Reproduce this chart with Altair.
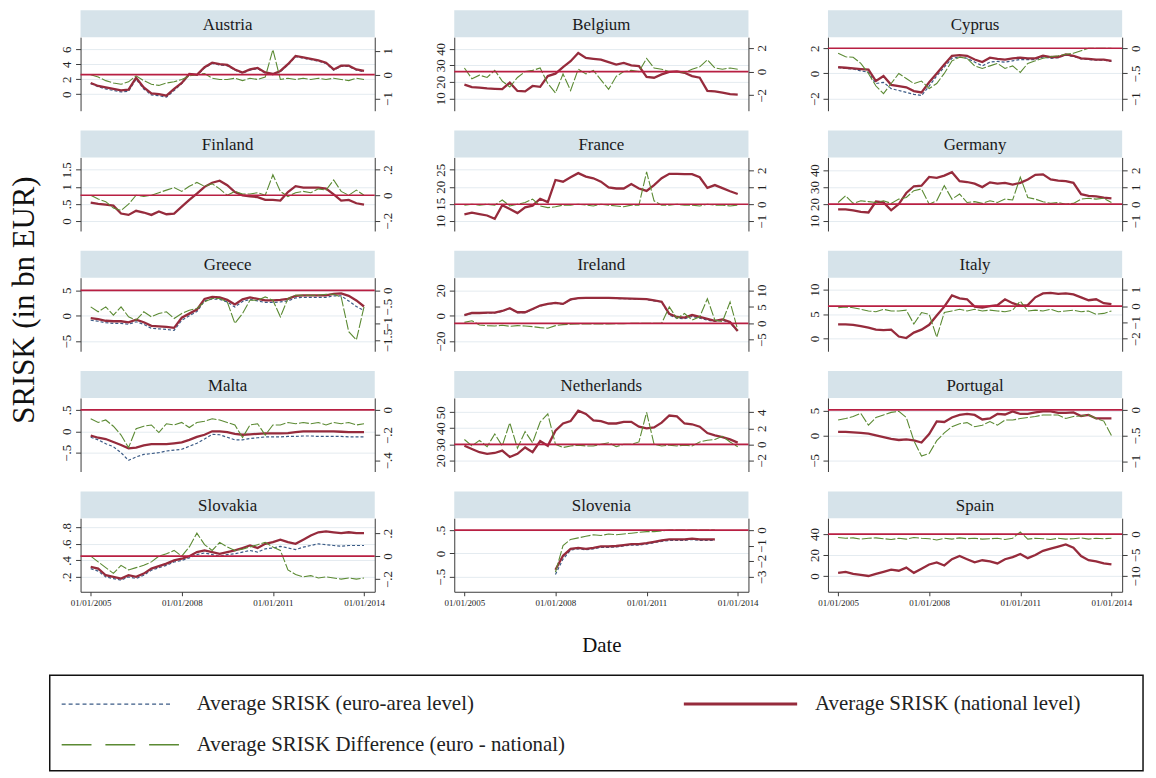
import altair as alt

# ---------------- data (quarterly observations) ----------------
DATES = ["2005-01-01", "2005-04-01", "2005-07-01", "2005-10-01", "2006-01-01", "2006-04-01",
         "2006-07-01", "2006-10-01", "2007-01-01", "2007-04-01", "2007-07-01", "2007-10-01",
         "2008-01-01", "2008-04-01", "2008-07-01", "2008-10-01", "2009-01-01", "2009-04-01",
         "2009-07-01", "2009-10-01", "2010-01-01", "2010-04-01", "2010-07-01", "2010-10-01",
         "2011-01-01", "2011-04-01", "2011-07-01", "2011-10-01", "2012-01-01", "2012-04-01",
         "2012-07-01", "2012-10-01", "2013-01-01", "2013-04-01", "2013-07-01", "2013-10-01",
         "2014-01-01"]

COUNTRIES = ["Austria", "Belgium", "Cyprus", "Finland", "France", "Germany", "Greece", "Ireland",
             "Italy", "Malta", "Netherlands", "Portugal", "Slovakia", "Slovenia", "Spain"]

AUT_NAT = [1.5, 1.1, 0.9, 0.7, 0.5, 0.6, 2.2, 0.9, 0.1, 0.0, -0.2, 0.7, 1.5, 2.7, 2.6, 3.6, 4.2, 4.0, 3.9, 3.3, 2.9, 3.3, 3.5, 2.9, 2.7, 3.1, 4.0, 5.1, 4.9, 4.7, 4.5, 4.2, 3.3, 3.8, 3.8, 3.3, 3.1]
AUT_EURO = [1.4, 1.0, 0.7, 0.5, 0.3, 0.4, 2.0, 0.7, -0.1, -0.2, -0.4, 0.5, 1.4, 2.6, 2.5, 3.5, 4.1, 3.9, 3.8, 3.2, 2.8, 3.2, 3.4, 2.8, 2.6, 3.0, 3.9, 5.0, 4.8, 4.6, 4.4, 4.1, 3.2, 3.7, 3.7, 3.2, 3.0]
AUT_DIFF = [0.0, -0.1, -0.25, -0.35, -0.4, -0.3, -0.05, -0.25, -0.4, -0.45, -0.35, -0.3, -0.2, -0.05, 0.0, 0.05, -0.15, -0.2, -0.2, -0.15, -0.25, -0.15, -0.2, -0.1, 1.05, -0.2, -0.15, -0.2, -0.15, -0.2, -0.15, -0.2, -0.15, -0.2, -0.25, -0.15, -0.2]

BEL_NAT = [18.3, 16.8, 16.5, 16.0, 15.8, 15.6, 19.5, 14.5, 14.2, 17.5, 17.0, 23.5, 25.0, 29.0, 32.5, 37.5, 34.5, 34.0, 33.5, 32.0, 30.5, 31.5, 30.0, 29.5, 23.0, 22.5, 24.5, 26.0, 26.3, 25.5, 23.5, 22.5, 14.5, 14.2, 13.5, 12.5, 12.2]
BEL_DIFF = [0.3, -0.6, -0.3, -0.5, 0.1, -0.8, -1.3, -0.5, 0.0, 0.1, 0.3, -1.0, -1.8, -0.2, -1.6, 0.2, -0.2, 0.1, -0.7, -1.5, -0.4, 0.0, 0.1, 0.0, 1.1, 0.3, 0.2, 0.0, 0.0, -0.1, 0.2, 0.4, 1.0, 0.3, 0.2, 0.3, 0.2]

CYP_NAT = [0.5, 0.45, 0.4, 0.35, 0.3, -0.6, -0.2, -0.9, -1.0, -1.1, -1.4, -1.5, -0.7, 0.0, 0.7, 1.4, 1.45, 1.4, 1.1, 0.9, 1.25, 1.15, 1.1, 1.2, 1.25, 1.2, 1.2, 1.4, 1.3, 1.3, 1.5, 1.4, 1.2, 1.15, 1.1, 1.1, 1.0]
CYP_EURO = [0.45, 0.4, 0.35, 0.2, 0.1, -0.8, -0.7, -1.2, -1.35, -1.5, -1.65, -1.75, -1.0, -0.2, 0.5, 1.2, 1.3, 1.2, 0.9, 0.6, 0.9, 0.95, 0.9, 1.0, 1.1, 1.1, 1.1, 1.3, 1.2, 1.25, 1.45, 1.35, 1.15, 1.1, 1.05, 1.05, 0.95]
CYP_DIFF = [-0.1, -0.17, -0.18, -0.3, -0.5, -0.75, -0.9, -0.7, -0.5, -0.6, -0.7, -0.65, -0.8, -0.7, -0.5, -0.25, -0.18, -0.2, -0.35, -0.4, -0.35, -0.3, -0.4, -0.35, -0.48, -0.3, -0.25, -0.2, -0.17, -0.15, -0.12, -0.1, -0.05, 0.0, 0.0, 0.0, 0.0]

FIN_NAT = [0.54, 0.5, 0.48, 0.45, 0.22, 0.18, 0.3, 0.25, 0.18, 0.28, 0.2, 0.22, 0.42, 0.62, 0.8, 1.0, 1.12, 1.18, 1.05, 0.85, 0.75, 0.72, 0.7, 0.62, 0.62, 0.6, 0.85, 1.02, 0.98, 0.98, 0.98, 0.95, 0.78, 0.6, 0.62, 0.52, 0.48]
FIN_DIFF = [0.0, -0.03, -0.05, -0.1, -0.12, -0.07, 0.0, -0.01, 0.0, 0.02, 0.04, 0.06, 0.03, 0.07, 0.1, 0.07, 0.09, 0.05, 0.0, 0.03, 0.01, 0.01, 0.02, 0.0, 0.16, 0.03, -0.01, 0.02, 0.03, 0.02, 0.05, 0.04, 0.12, 0.03, 0.0, 0.04, 0.0]

FRA_NAT = [11.9, 12.4, 12.0, 11.6, 10.6, 14.6, 13.5, 12.3, 14.0, 14.5, 16.5, 15.5, 22.0, 21.5, 22.8, 24.0, 23.0, 22.5, 21.5, 19.8, 19.5, 19.5, 20.8, 19.5, 18.8, 20.5, 22.5, 23.8, 23.8, 23.7, 23.7, 22.8, 19.7, 20.5, 19.6, 18.7, 17.9]
FRA_DIFF = [-0.05, 0.0, -0.05, 0.0, -0.05, 0.25, -0.1, 0.0, 0.1, 0.3, -0.1, -0.2, -0.15, -0.05, -0.05, 0.0, -0.05, -0.1, 0.0, -0.05, -0.1, -0.15, -0.05, -0.05, 1.9, 0.2, -0.05, -0.05, 0.0, -0.05, -0.05, -0.1, 0.0, -0.05, -0.05, -0.1, -0.05]

DEU_NAT = [16.8, 16.9, 16.2, 15.4, 15.0, 21.5, 21.0, 16.3, 20.0, 26.5, 30.5, 30.8, 36.0, 35.5, 36.8, 38.8, 33.5, 33.0, 32.0, 30.0, 32.8, 32.0, 32.5, 31.5, 32.5, 34.5, 37.2, 37.5, 34.5, 33.8, 33.5, 32.5, 25.8, 24.8, 24.5, 23.8, 23.3]
DEU_DIFF = [0.1, 0.5, 0.05, 0.2, 0.15, 0.1, 0.2, 0.05, 0.3, 0.4, 0.8, 0.9, 0.0, 0.2, 1.1, 0.3, 0.6, 0.1, 0.15, 0.05, 0.2, 0.1, 0.3, 0.25, 1.6, 0.4, 0.3, 0.15, 0.05, 0.1, 0.0, 0.05, 0.3, 0.35, 0.3, 0.35, 0.1]

GRC_NAT = [-0.5, -0.7, -1.0, -1.1, -1.1, -1.3, -0.8, -1.3, -2.0, -2.1, -2.2, -2.4, -0.4, 0.4, 1.2, 3.3, 3.7, 3.6, 3.1, 2.2, 3.2, 3.6, 3.3, 3.0, 3.0, 3.1, 3.3, 3.9, 4.0, 4.0, 4.0, 4.0, 4.3, 4.4, 3.9, 3.0, 1.8]
GRC_EURO = [-0.9, -1.1, -1.4, -1.5, -1.5, -1.7, -1.2, -1.7, -2.5, -2.6, -2.7, -2.9, -0.9, 0.0, 0.8, 2.9, 3.3, 3.2, 2.7, 1.7, 2.8, 3.2, 2.9, 2.6, 2.6, 2.7, 2.9, 3.5, 3.6, 3.6, 3.6, 3.6, 3.9, 3.9, 2.9, 1.8, 1.0]
GRC_DIFF = [-0.5, -0.65, -0.5, -0.75, -0.5, -0.8, -0.9, -0.65, -0.8, -0.7, -0.65, -0.85, -0.7, -0.6, -0.55, -0.35, -0.25, -0.25, -0.35, -1.0, -0.7, -0.3, -0.3, -0.2, -0.3, -0.8, -0.25, -0.15, -0.15, -0.15, -0.15, -0.12, -0.12, -0.2, -1.25, -1.5, -0.5]

IRL_NAT = [0.5, 2.1, 2.1, 2.4, 2.4, 3.7, 5.9, 2.7, 2.7, 5.3, 8.0, 9.3, 10.1, 9.3, 12.8, 13.9, 14.0, 14.0, 14.0, 14.0, 13.8, 13.7, 13.5, 13.3, 13.0, 12.0, 11.0, 1.5, -1.0, -1.5, 0.5, -1.0, -2.5, -4.0, -3.0, -5.0, -12.0]
IRL_EURO = [0.3, 1.8, 1.8, 2.1, 2.1, 3.4, 5.6, 2.4, 2.4, 5.0, 7.7, 9.0, 9.8, 9.0, 12.5, 13.6, 13.7, 13.7, 13.7, 13.7, 13.5, 13.4, 13.2, 13.0, 12.7, 11.7, 10.7, 0.5, -2.0, -2.5, -0.5, -2.0, -3.5, -4.5, -3.5, -5.5, -12.5]
IRL_DIFF = [0.3, 0.8, -0.5, -0.7, -0.8, -0.6, -0.9, -0.7, -0.8, -1.0, -1.3, -1.5, -0.7, -0.4, -0.3, -0.2, -0.2, -0.2, -0.2, -0.2, -0.1, -0.1, 0.0, 0.0, 0.0, 0.0, 0.0, 5.0, 1.5, 3.0, 1.0, 2.0, 7.5, 1.0, 0.5, 6.5, -2.0]

ITA_NAT = [2.9, 2.9, 2.8, 2.5, 2.2, 1.8, 1.7, 1.8, 0.4, 0.1, 1.2, 1.8, 2.8, 4.7, 6.5, 8.8, 8.2, 8.0, 6.5, 6.3, 6.6, 6.8, 8.0, 7.2, 6.7, 6.8, 8.4, 9.2, 9.3, 9.1, 9.2, 9.0, 8.4, 7.8, 8.0, 7.2, 7.0]
ITA_DIFF = [-0.1, -0.05, -0.1, -0.2, -0.3, -0.35, -0.2, -0.3, -0.3, -0.25, -1.1, -0.4, -0.5, -1.9, -0.4, -0.3, -0.2, -0.3, -0.2, -0.3, -0.25, -0.3, -0.35, -0.25, 0.3, -0.3, -0.25, -0.3, -0.2, -0.35, -0.3, -0.25, -0.35, -0.3, -0.5, -0.45, -0.3]

MLT_NAT = [-0.1, -0.15, -0.18, -0.25, -0.32, -0.4, -0.38, -0.33, -0.3, -0.3, -0.3, -0.28, -0.26, -0.2, -0.13, -0.08, 0.0, 0.0, -0.02, -0.06, -0.08, -0.07, -0.06, -0.05, -0.05, -0.05, -0.04, -0.02, 0.0, 0.0, 0.0, 0.0, 0.0, -0.01, -0.02, -0.02, -0.02]
MLT_EURO = [-0.14, -0.2, -0.29, -0.36, -0.5, -0.68, -0.6, -0.54, -0.52, -0.5, -0.46, -0.44, -0.42, -0.35, -0.28, -0.18, -0.07, -0.08, -0.14, -0.2, -0.2, -0.17, -0.15, -0.13, -0.13, -0.13, -0.12, -0.12, -0.11, -0.11, -0.12, -0.12, -0.12, -0.12, -0.13, -0.13, -0.13]
MLT_DIFF = [-0.07, -0.1, -0.08, -0.13, -0.2, -0.3, -0.15, -0.13, -0.12, -0.18, -0.11, -0.12, -0.1, -0.14, -0.1, -0.09, -0.07, -0.08, -0.1, -0.12, -0.22, -0.12, -0.11, -0.2, -0.12, -0.12, -0.1, -0.11, -0.1, -0.11, -0.1, -0.12, -0.1, -0.11, -0.1, -0.12, -0.11]

NLD_NAT = [29, 27, 25, 24, 24.5, 26, 22, 24, 28, 25, 32, 29, 38.5, 43, 44.5, 51, 49, 45, 44.5, 43, 43, 44, 44, 41, 40, 40.5, 43.5, 48, 47.5, 43, 42.5, 41, 37, 35.5, 34.5, 33, 31]
NLD_DIFF = [0.6, -0.2, 0.5, -0.3, 1.3, -0.2, 2.7, -0.5, 1.6, 0.2, 2.8, 3.8, 0.0, -0.4, -0.2, -0.1, -0.2, -0.2, 0.0, 0.2, -0.3, 0.0, 0.0, 0.3, 4.0, 0.0, -0.2, -0.1, -0.2, -0.1, -0.2, 0.3, 0.5, 0.6, 1.0, 0.3, -0.3]

PRT_NAT = [0.7, 0.7, 0.6, 0.5, 0.35, 0.0, -0.35, -0.7, -0.9, -0.8, -1.0, -1.4, 0.3, 2.8, 2.7, 3.6, 4.1, 4.3, 4.1, 3.2, 3.4, 4.3, 4.2, 4.8, 4.3, 4.3, 4.6, 4.8, 4.8, 4.5, 4.5, 4.6, 3.9, 4.1, 3.4, 3.4, 3.4]
PRT_DIFF = [-0.2, -0.17, -0.13, -0.07, -0.3, -0.15, -0.1, -0.05, -0.03, -0.15, -0.6, -0.9, -0.85, -0.6, -0.45, -0.33, -0.27, -0.25, -0.33, -0.3, -0.23, -0.3, -0.2, -0.2, -0.17, -0.15, -0.13, -0.1, -0.1, -0.1, -0.17, -0.13, -0.12, -0.1, -0.17, -0.22, -0.5]

SVK_NAT = [0.32, 0.3, 0.22, 0.2, 0.18, 0.22, 0.2, 0.24, 0.3, 0.33, 0.36, 0.4, 0.42, 0.45, 0.5, 0.52, 0.5, 0.48, 0.5, 0.52, 0.55, 0.58, 0.55, 0.6, 0.62, 0.65, 0.62, 0.6, 0.65, 0.7, 0.74, 0.75, 0.74, 0.73, 0.74, 0.73, 0.73]
SVK_EURO = [0.3, 0.27, 0.2, 0.18, 0.16, 0.2, 0.18, 0.22, 0.28, 0.31, 0.34, 0.38, 0.4, 0.43, 0.47, 0.49, 0.47, 0.45, 0.47, 0.48, 0.5, 0.52, 0.5, 0.54, 0.55, 0.57, 0.55, 0.53, 0.56, 0.58, 0.6, 0.59, 0.58, 0.57, 0.58, 0.58, 0.58]
SVK_DIFF = [0.0, -0.05, -0.1, -0.15, -0.08, -0.12, -0.1, -0.08, -0.05, 0.0, 0.02, 0.05, 0.0, 0.08, 0.2, 0.1, 0.05, 0.12, 0.08, 0.05, 0.06, 0.08, 0.1, 0.12, 0.08, 0.05, -0.12, -0.16, -0.18, -0.17, -0.19, -0.18, -0.19, -0.2, -0.19, -0.2, -0.19]

SVN_NAT = [None, None, None, None, None, None, None, None, None, None, None, None, -0.35, -0.05, 0.1, 0.12, 0.1, 0.12, 0.15, 0.15, 0.16, 0.18, 0.2, 0.2, 0.22, 0.25, 0.28, 0.3, 0.3, 0.3, 0.32, 0.3, 0.3, 0.3, None, None, None]
SVN_EURO = [None, None, None, None, None, None, None, None, None, None, None, None, -0.45, -0.12, 0.07, 0.1, 0.08, 0.1, 0.13, 0.13, 0.14, 0.16, 0.18, 0.18, 0.2, 0.23, 0.26, 0.28, 0.28, 0.28, 0.3, 0.28, 0.28, 0.28, None, None, None]
SVN_DIFF = [None, None, None, None, None, None, None, None, None, None, None, None, -2.7, -1.0, -0.6, -0.5, -0.4, -0.3, -0.35, -0.25, -0.3, -0.25, -0.2, -0.15, -0.1, -0.1, -0.05, 0.0, 0.0, 0.0, 0.0, 0.0, 0.0, 0.0, None, None, None]

ESP_NAT = [3, 4, 2, 1, 0, 2, 4, 6, 5, 8, 3, 7, 11, 13, 10, 16, 19, 16, 13, 15, 14, 12, 16, 18, 21, 17, 20, 24, 26, 28, 30, 27, 19, 15, 14, 12, 11]
ESP_DIFF = [-0.8, -1.0, -0.9, -1.2, -1.0, -0.9, -1.1, -1.3, -1.0, -1.2, -0.8, -1.0, -1.1, -1.4, -1.0, -1.2, -0.9, -1.1, -1.0, -1.2, -1.1, -1.0, -1.3, -1.0, 0.5, -1.2, -1.0, -1.1, -1.3, -1.0, -1.2, -1.1, -0.9, -1.2, -1.0, -1.1, -1.0]

SERIES = {
    "Austria": (AUT_NAT, AUT_EURO, AUT_DIFF), "Belgium": (BEL_NAT, None, BEL_DIFF),
    "Cyprus": (CYP_NAT, CYP_EURO, CYP_DIFF), "Finland": (FIN_NAT, None, FIN_DIFF),
    "France": (FRA_NAT, None, FRA_DIFF), "Germany": (DEU_NAT, None, DEU_DIFF),
    "Greece": (GRC_NAT, GRC_EURO, GRC_DIFF), "Ireland": (IRL_NAT, IRL_EURO, IRL_DIFF),
    "Italy": (ITA_NAT, None, ITA_DIFF), "Malta": (MLT_NAT, MLT_EURO, MLT_DIFF),
    "Netherlands": (NLD_NAT, None, NLD_DIFF), "Portugal": (PRT_NAT, None, PRT_DIFF),
    "Slovakia": (SVK_NAT, SVK_EURO, SVK_DIFF), "Slovenia": (SVN_NAT, SVN_EURO, SVN_DIFF),
    "Spain": (ESP_NAT, None, ESP_DIFF),
}

# axis settings: (left domain, left ticks, right domain, right ticks)
AXES = {
    "Austria": ([-2.2, 7.6], [0, 2, 4, 6], [-1.51, 1.57], [-1, 0, 1]),
    "Belgium": ([2.5, 47.1], [10, 20, 30, 40], [-3.3, 2.9], [-2, 0, 2]),
    "Cyprus": ([-2.95, 2.87], [-2, 0, 2], [-1.24, 0.22], [-1, -0.5, 0]),
    "Finland": ([-0.29, 1.86], [0, 0.5, 1, 1.5], [-0.28, 0.296], [-0.2, 0, 0.2]),
    "France": ([7.06, 28.6], [10, 15, 20, 25], [-1.57, 2.75], [-1, 0, 1, 2]),
    "Germany": ([4.1, 47.5], [10, 20, 30, 40], [-1.58, 2.76], [-1, 0, 1, 2]),
    "Greece": ([-7.0, 7.47], [-5, 0, 5], [-1.84, 0.38], [-1.5, -1, -0.5, 0]),
    "Ireland": ([-28, 29.9], [-20, 0, 20], [-8.5, 13.9], [-5, 0, 5, 10]),
    "Italy": ([-2.6, 12.4], [0, 5, 10], [-2.76, 1.73], [-2, -1, 0, 1]),
    "Malta": ([-0.94, 0.78], [-0.5, 0, 0.5], [-0.49, 0.095], [-0.4, -0.2, 0]),
    "Netherlands": ([12.9, 59], [20, 30, 40, 50], [-3.4, 5.8], [-2, 0, 2, 4]),
    "Portugal": ([-7.2, 7.5], [-5, 0, 5], [-1.2, 0.23], [-1, -0.5, 0]),
    "Slovakia": ([0.02, 0.91], [0.2, 0.4, 0.6, 0.8], [-0.31, 0.33], [-0.2, 0, 0.2]),
    "Slovenia": ([-0.82, 0.755], [-0.5, 0, 0.5], [-3.96, 0.76], [-3, -2, -1, 0]),
    "Spain": ([-15, 55], [0, 20, 40], [-13.8, 3.8], [-10, -5, 0]),
}

LEGEND_LABELS = ["Average SRISK (euro-area level)", "Average SRISK (national level)",
                 "Average SRISK Difference (euro - national)"]

# ---------------- styling ----------------
SERIF = "Liberation Serif"
RED = "#962b3c"
REF = "#b81f42"
GREEN = "#5b8a33"
BLUE = "#3b5b86"
HDR = "#d6e3ea"
GRID = "#e4ebf0"
AXC = "#3a3a3a"
W, HP, HH, GAP = 296, 74, 27, 20
LBL = "replace(datum.label, '0.', '.')"

XDOM = [alt.DateTime(year=2004, month=9, date=1, utc=True),
        alt.DateTime(year=2014, month=5, date=10, utc=True)]
XTICKS = [alt.DateTime(year=y, month=1, date=1, utc=True) for y in (2005, 2008, 2011, 2014)]


def side_axis(orient, ticks, grid, **extra):
    return alt.Axis(orient=orient, values=ticks, format="~r", labelExpr=LBL, labelAngle=270,
                    labelAlign="center", labelBaseline="bottom" if orient == "left" else "top",
                    labelFont=SERIF, labelFontSize=13, labelColor="#222222", labelPadding=2,
                    labelOverlap=False, tickSize=5, tickColor=AXC, domainColor=AXC,
                    grid=grid, gridColor=GRID, gridWidth=1, **extra)


def header(name, row):
    top = 0 if row == 0 else GAP
    hdata = alt.Data(values=[{"t": name}])
    rect = alt.Chart(hdata).mark_rect(color=HDR).encode(
        x=alt.value(0), x2=alt.value(W), y=alt.value(top), y2=alt.value(top + HH))
    txt = alt.Chart(hdata).mark_text(font=SERIF, fontSize=17, color="#1a1a1a", baseline="middle").encode(
        text="t:N", x=alt.value(W / 2), y=alt.value(top + HH / 2 + 1))
    return alt.layer(rect, txt).properties(width=W, height=top + HH)


def plot(name, row):
    nat, euro, diff = SERIES[name]
    ldom, lt, rdom, rt = AXES[name]
    recs = []
    for i, d in enumerate(DATES):
        recs.append({"date": d, "nat": nat[i], "euro": euro[i] if euro else None, "diff": diff[i]})
    data = alt.Data(values=recs)

    if row == 4:
        xt = dict(title="Date", titleFont=SERIF, titleFontSize=21, titleFontWeight="normal",
                  titleColor="#111111", titleY=54, titleX=W / 2, titleBaseline="middle") \
            if name == "Slovenia" else dict(title=None)
        xaxis = alt.Axis(values=XTICKS, format="%m/%d/%Y", labelFont=SERIF, labelFontSize=9,
                         labelColor="#222222", labelAngle=0, labelFlush=False, tickSize=4,
                         tickColor=AXC, domainColor=AXC, grid=False, labelPadding=3, **xt)
    else:
        xaxis = None
    x = alt.X("date:T", scale=alt.Scale(type="utc", domain=XDOM), axis=xaxis)

    if name == "Greece":
        lt_extra = dict(title="SRISK (in bn EUR)", titleFont=SERIF, titleFontSize=31,
                        titleFontWeight="normal", titleColor="#111111", titleAngle=270,
                        titleX=-56, titleY=22, titleBaseline="middle", titleAlign="center")
    else:
        lt_extra = dict(title=None)
    laxis = side_axis("left", lt, True, **lt_extra)
    raxis = side_axis("right", rt, False, title=None)
    lscale = alt.Scale(domain=ldom, nice=False, zero=False)
    rscale = alt.Scale(domain=rdom, nice=False, zero=False)

    left_parts = []
    if euro:
        left_parts.append(alt.Chart(data).mark_line(color=BLUE, strokeWidth=1.2, strokeDash=[3, 2], clip=True)
                          .encode(x=x, y=alt.Y("euro:Q", scale=lscale, axis=laxis)))
    left_parts.append(alt.Chart(data).mark_line(color=RED, strokeWidth=2.3, clip=True)
                      .encode(x=x, y=alt.Y("nat:Q", scale=lscale, axis=laxis)))
    left = alt.layer(*left_parts)

    diff_line = alt.Chart(data).mark_line(color=GREEN, strokeWidth=1.1, strokeDash=[10, 2], clip=True) \
        .encode(x=x, y=alt.Y("diff:Q", scale=rscale, axis=raxis))
    ref = alt.Chart(alt.Data(values=[{"z": 0}])).mark_rule(color=REF, strokeWidth=1.7) \
        .encode(y=alt.Y("z:Q", scale=rscale, axis=raxis))
    right = alt.layer(diff_line, ref)

    return alt.layer(left, right).resolve_scale(y="independent").properties(width=W, height=HP)


# ---------------- legend (placed as one more grid cell) ----------------
LTOP = 84
ld = alt.Data(values=[{"k": 0}])
box = alt.Chart(ld).mark_rect(fillOpacity=0, stroke="#111111", strokeWidth=1.5).encode(
    x=alt.value(-31), x2=alt.value(1069), y=alt.value(LTOP), y2=alt.value(LTOP + 96))
s1 = alt.Chart(ld).mark_rule(color=BLUE, strokeWidth=1.2, strokeDash=[4, 3]).encode(
    x=alt.value(-19), x2=alt.value(91), y=alt.value(LTOP + 29))
s2 = alt.Chart(ld).mark_rule(color=RED, strokeWidth=3).encode(
    x=alt.value(607), x2=alt.value(721), y=alt.value(LTOP + 29))
s3 = alt.Chart(ld).mark_rule(color=GREEN, strokeWidth=1.6, strokeDash=[30, 14]).encode(
    x=alt.value(-19), x2=alt.value(99), y=alt.value(LTOP + 70))
tstyle = dict(font=SERIF, fontSize=21, align="left", baseline="middle", color="#222222")
t1 = alt.Chart(ld).mark_text(**tstyle).encode(x=alt.value(117), y=alt.value(LTOP + 29), text=alt.value(LEGEND_LABELS[0]))
t2 = alt.Chart(ld).mark_text(**tstyle).encode(x=alt.value(739), y=alt.value(LTOP + 29), text=alt.value(LEGEND_LABELS[1]))
t3 = alt.Chart(ld).mark_text(**tstyle).encode(x=alt.value(117), y=alt.value(LTOP + 70), text=alt.value(LEGEND_LABELS[2]))
legend = alt.layer(box, s1, s2, s3, t1, t2, t3).properties(width=W, height=LTOP + 96)

cells = []
for r in range(5):
    names = COUNTRIES[3 * r: 3 * r + 3]
    cells += [header(n, r) for n in names]
    cells += [plot(n, r) for n in names]
cells.append(legend)

chart = alt.concat(*cells, columns=3, spacing=alt.RowColnumber(row=0, column=80),
                   bounds="flush", align="each").properties(
    padding={"left": 0, "top": 0, "right": 4, "bottom": 0}, background="white"
).configure_view(stroke=None)

chart.save("out.html", embed_options={"renderer": "svg", "actions": False})
